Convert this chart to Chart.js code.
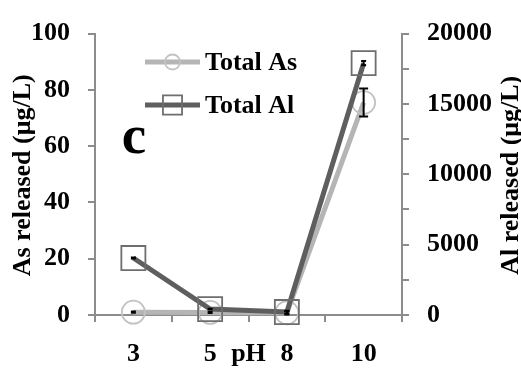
<!DOCTYPE html>
<html>
<head>
<meta charset="utf-8">
<script src="https://cdn.jsdelivr.net/npm/chart.js@4/dist/chart.umd.min.js"></script>
<style>
  html, body { margin: 0; padding: 0; background: #fff; }
  #wrap { width: 521px; height: 370px; }
</style>
</head>
<body>
<div id="wrap"><canvas id="c" width="521" height="370"></canvas></div>
<script>
// pH levels tested
const phLabels = ['3', '5', '8', '10'];

// Total As released (µg/L), left axis, with standard deviation
const totalAs = [1.0, 0.9, 0.8, 75.5];
const totalAsErr = [0.2, 0.2, 0.6, 5.0];

// Total Al released (µg/L), right axis, with standard deviation
const totalAl = [4050, 420, 210, 17900];
const totalAlErr = [40, 20, 100, 150];

const SERIF = '"Liberation Serif", "Times New Roman", Times, serif';
const AXIS_GREY = '#8c8c8c';
const AS_LINE = '#b5b5b5';
const AS_MARK = '#c2c2c2';
const AL_LINE = '#5e5e5e';
const AL_MARK = '#6e6e6e';

// vertical error bars with caps, drawn from each dataset's error array
const errorBars = {
  id: 'errorBars',
  afterDatasetsDraw(chart) {
    const ctx = chart.ctx;
    chart.data.datasets.forEach((ds, di) => {
      const meta = chart.getDatasetMeta(di);
      const yScale = chart.scales[ds.yAxisID];
      meta.data.forEach((pt, i) => {
        const v = ds.data[i], e = ds.errors[i];
        const yTop = yScale.getPixelForValue(v + e);
        const yBot = yScale.getPixelForValue(v - e);
        const x = pt.x;
        const cap = (yBot - yTop) > 6 ? 4.5 : 2.5;
        ctx.save();
        ctx.strokeStyle = '#000';
        ctx.lineWidth = 2;
        ctx.beginPath();
        ctx.moveTo(x, yTop); ctx.lineTo(x, yBot);
        ctx.moveTo(x - cap, yTop); ctx.lineTo(x + cap, yTop);
        ctx.moveTo(x - cap, yBot); ctx.lineTo(x + cap, yBot);
        ctx.stroke();
        ctx.restore();
      });
    });
  }
};

// axis titles, x-axis "pH" caption, panel letter and the inset legend
const annotations = {
  id: 'annotations',
  afterDraw(chart) {
    const ctx = chart.ctx;
    const area = chart.chartArea;
    const xs = chart.scales.x;
    ctx.save();
    ctx.fillStyle = '#000';

    // rotated axis titles
    ctx.font = 'bold 26px ' + SERIF;
    ctx.textAlign = 'center';
    ctx.textBaseline = 'middle';
    [[23, 'As released (μg/L)'], [511, 'Al released (μg/L)']].forEach(([x, t]) => {
      ctx.save();
      ctx.translate(x, (area.top + area.bottom) / 2 + 1);
      ctx.rotate(-Math.PI / 2);
      ctx.fillText(t, 0, 0);
      ctx.restore();
    });

    // "pH" caption in line with the category labels
    ctx.fillText('pH', (area.left + area.right) / 2, xs.top + 39);

    // panel letter
    ctx.font = 'bold 55px ' + SERIF;
    ctx.textAlign = 'center';
    ctx.textBaseline = 'alphabetic';
    ctx.fillText('c', 134, 153);

    // legend entries
    const rows = [
      { ds: chart.data.datasets[0], y: 62, r: 7.5 },
      { ds: chart.data.datasets[1], y: 105, r: 13.5 }
    ];
    rows.forEach(({ ds, y, r }) => {
      ctx.strokeStyle = ds.borderColor;
      ctx.lineWidth = 5;
      ctx.beginPath();
      ctx.moveTo(145, y); ctx.lineTo(200, y);
      ctx.stroke();
      ctx.strokeStyle = ds.pointBorderColor;
      ctx.fillStyle = 'rgba(0,0,0,0)';
      ctx.lineWidth = 1.8;
      Chart.helpers.drawPoint(ctx, {
        pointStyle: ds.pointStyle,
        rotation: 0,
        radius: r,
        borderWidth: 1.8
      }, 172.5, y);
      ctx.fillStyle = '#000';
      ctx.font = 'bold 26px ' + SERIF;
      ctx.textAlign = 'left';
      ctx.textBaseline = 'middle';
      ctx.fillText(ds.label, 205, y + 1);
    });
    ctx.restore();
  }
};

const tickFont = { family: SERIF, size: 26, weight: 'bold' };

function build() {
  new Chart(document.getElementById('c'), {
    type: 'line',
    data: {
      labels: phLabels,
      datasets: [
        {
          label: 'Total As',
          data: totalAs,
          errors: totalAsErr,
          yAxisID: 'yAs',
          order: 2,
          clip: false,
          borderColor: AS_LINE,
          borderWidth: 5,
          pointStyle: 'circle',
          pointRadius: 11.5,
          pointBorderWidth: 1.8,
          pointBorderColor: AS_MARK,
          pointBackgroundColor: 'rgba(0,0,0,0)',
          tension: 0,
          fill: false
        },
        {
          label: 'Total Al',
          data: totalAl,
          errors: totalAlErr,
          yAxisID: 'yAl',
          order: 1,
          clip: false,
          borderColor: AL_LINE,
          borderWidth: 5,
          pointStyle: 'rect',
          pointRadius: 17,
          pointBorderWidth: 1.8,
          pointBorderColor: AL_MARK,
          pointBackgroundColor: 'rgba(0,0,0,0)',
          tension: 0,
          fill: false
        }
      ]
    },
    options: {
      responsive: false,
      animation: false,
      devicePixelRatio: 1,
      layout: { padding: { top: 23, left: 0, right: 0, bottom: 0 } },
      plugins: {
        legend: { display: false },
        tooltip: { enabled: false }
      },
      scales: {
        x: {
          type: 'category',
          offset: true,
          grid: { offset: true, drawOnChartArea: false, drawTicks: true, tickLength: 7, color: AXIS_GREY, lineWidth: 2 },
          border: { color: AXIS_GREY, width: 2 },
          ticks: { color: '#000', font: tickFont, padding: 17, maxRotation: 0 },
          afterFit(s) { s.height = 55; }
        },
        yAs: {
          position: 'left',
          min: 0, max: 100,
          grid: { drawOnChartArea: false, drawTicks: true, tickLength: 7, color: AXIS_GREY, lineWidth: 2 },
          border: { color: AXIS_GREY, width: 2 },
          ticks: {
            stepSize: 10, color: '#000', font: tickFont, padding: 18,
            callback: v => (v % 20 === 0 ? v : '')
          },
          afterFit(s) { s.width = 95; }
        },
        yAl: {
          position: 'right',
          min: 0, max: 20000,
          grid: { drawOnChartArea: false, drawTicks: true, tickLength: 7, color: AXIS_GREY, lineWidth: 2 },
          border: { color: AXIS_GREY, width: 2 },
          ticks: {
            stepSize: 2500, color: '#000', font: tickFont, padding: 18,
            callback: v => (v % 5000 === 0 ? v : '')
          },
          afterFit(s) { s.width = 119; }
        }
      }
    },
    plugins: [errorBars, annotations]
  });
}

// make sure the serif face is ready before the canvas text is laid out
if (document.fonts && document.fonts.load) {
  document.fonts.load('bold 26px "Liberation Serif"').then(build, build);
} else {
  build();
}
</script>
</body>
</html>
